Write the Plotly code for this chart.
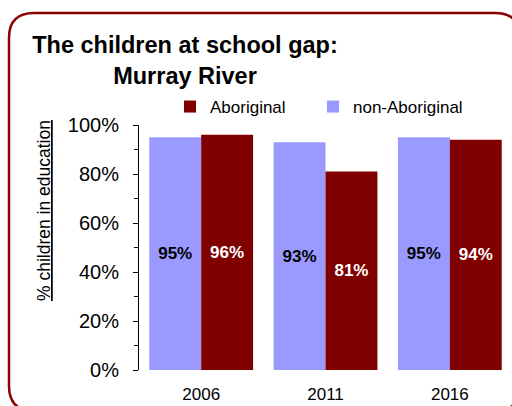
import plotly.graph_objects as go

years = ["2006", "2011", "2016"]
non_aboriginal = [0.95, 0.93, 0.95]
aboriginal = [0.96, 0.81, 0.94]
non_labels = ["95%", "93%", "95%"]
abo_labels = ["96%", "81%", "94%"]
y_ticks = [0, 0.2, 0.4, 0.6, 0.8, 1.0]
y_tick_text = ["0%", "20%", "40%", "60%", "80%", "100%"]

W, H = 512, 406
ML, MR, MT, MB = 139, 0, 125, 36
PW, PH = W - ML - MR, H - MT - MB

def px_x(px):
    return (px - ML) / PW

def px_y(py):
    return (H - MB - py) / PH

def rounded_rect(x0, y0, x1, y1, r):
    def P(x, y):
        return f"{px_x(x):.5f},{px_y(y):.5f}"
    return (
        f"M {P(x0 + r, y0)} L {P(x1 - r, y0)} Q {P(x1, y0)} {P(x1, y0 + r)} "
        f"L {P(x1, y1 - r)} Q {P(x1, y1)} {P(x1 - r, y1)} "
        f"L {P(x0 + r, y1)} Q {P(x0, y1)} {P(x0, y1 - r)} "
        f"L {P(x0, y0 + r)} Q {P(x0, y0)} {P(x0 + r, y0)} Z"
    )

FONT = "Liberation Sans, Arial, sans-serif"

fig = go.Figure()
fig.add_trace(go.Bar(
    x=years, y=non_aboriginal, name="non-Aboriginal",
    marker=dict(color="#9999FF", line=dict(width=0)),
    text=non_labels, textposition="inside", insidetextanchor="middle",
    textfont=dict(family=FONT, size=17, color="black", weight="bold"),
    legend="legend2", hoverinfo="skip",
))
fig.add_trace(go.Bar(
    x=years, y=aboriginal, name="Aboriginal",
    marker=dict(color="#800000", line=dict(width=0)),
    text=abo_labels, textposition="inside", insidetextanchor="middle",
    textfont=dict(family=FONT, size=17, color="white", weight="bold"),
    legend="legend", hoverinfo="skip",
))

legend_common = dict(
    orientation="h", xanchor="left", yanchor="middle",
    y=px_y(107), font=dict(family=FONT, size=17, color="black"),
    itemwidth=30, bgcolor="rgba(0,0,0,0)",
)

fig.update_layout(
    width=W, height=H,
    margin=dict(l=ML, r=MR, t=MT, b=MB, autoexpand=False),
    paper_bgcolor="white", plot_bgcolor="white",
    barmode="group", bargap=0.165, bargroupgap=0,
    font=dict(family=FONT, color="black"),
    title=dict(
        text="The children at school gap:<br>Murray River",
        font=dict(family=FONT, size=23.5, color="black", weight="bold"),
        x=185 / W, xref="container", xanchor="center",
        y=1 - 53 / H, yref="container", yanchor="top",
    ),
    legend=dict(legend_common, x=px_x(170)),
    legend2=dict(legend_common, x=px_x(313)),
    showlegend=True,
    xaxis=dict(
        showline=False, ticks="", showgrid=False,
        tickfont=dict(family=FONT, size=17, color="black"),
        ticklabelstandoff=12,
    ),
    yaxis=dict(
        range=[0, 1], tickvals=y_ticks, ticktext=y_tick_text,
        showline=True, linecolor="black", linewidth=1,
        ticks="outside", ticklen=5, tickcolor="black", tickwidth=1,
        minor=dict(dtick=0.1, ticks="outside", ticklen=4, tickcolor="black"),
        showgrid=False, zeroline=False,
        tickfont=dict(family=FONT, size=20, color="black"),
        ticklabelstandoff=10,
    ),
    annotations=[dict(
        text="<u>% children in education</u>", textangle=-90,
        xref="paper", yref="paper", x=px_x(44), y=px_y(211),
        xanchor="center", yanchor="middle", showarrow=False,
        font=dict(family=FONT, size=17.5, color="black"),
    )],
    shapes=[dict(
        type="path", xref="paper", yref="paper",
        path=rounded_rect(9, 13, 520, 411, 25),
        line=dict(color="#8B0000", width=2.5), fillcolor="rgba(0,0,0,0)",
        layer="above",
    )],
)

fig.write_html("out.html", config={"displayModeBar": False},
               post_script="document.body.style.margin='0';")
